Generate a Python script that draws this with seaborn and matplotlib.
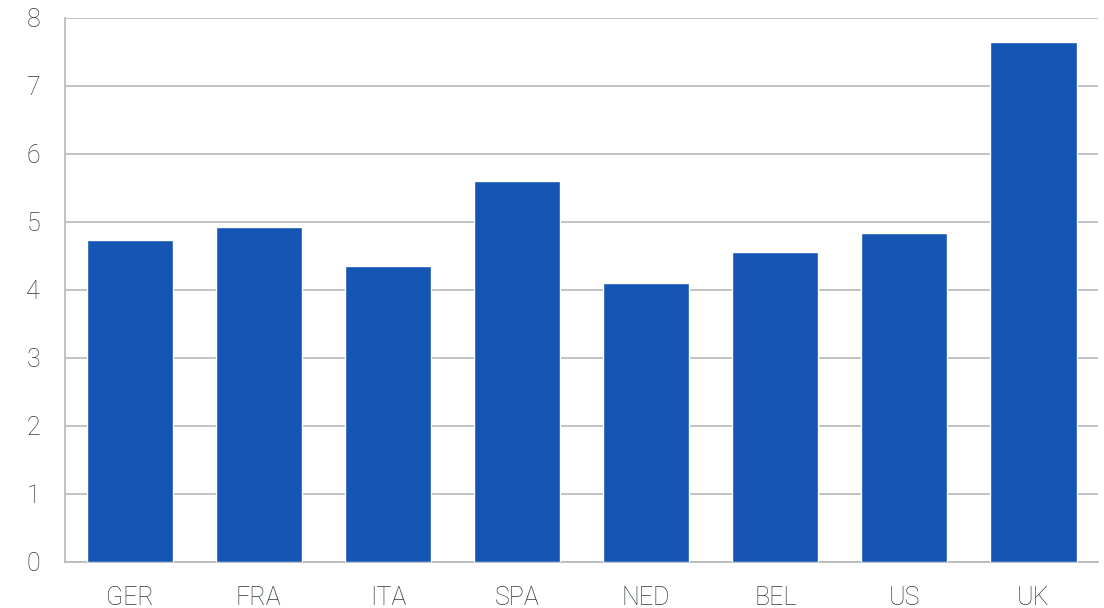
import matplotlib
matplotlib.use("Agg")
import matplotlib.pyplot as plt
import seaborn as sns
import pandas as pd

categories = ["GER", "FRA", "ITA", "SPA", "NED", "BEL", "US", "UK"]
values = [4.74, 4.93, 4.35, 5.60, 4.11, 4.56, 4.84, 7.64]

sns.set_theme(style="white")
plt.rcParams["font.family"] = ["Roboto", "DejaVu Sans"]

text_color = "#2c3b36"
grid_color = "#b4b9bc"
bar_color = "#1555b4"

df = pd.DataFrame({"country": categories, "value": values})

fig = plt.figure(figsize=(11.04, 6.08), dpi=100)
ax = fig.add_axes([0.0589, 0.0757, 0.9357, 0.8947])

sns.barplot(data=df, x="country", y="value", color=bar_color, saturation=1,
            width=0.667, ax=ax, zorder=3)

ax.set_xlim(-0.5, 7.5)
ax.set_ylim(0, 8)
ax.set_yticks(range(0, 9))
ax.yaxis.grid(True, color=grid_color, linewidth=1.2, zorder=0)
ax.set_axisbelow(True)
ax.set_xlabel("")
ax.set_ylabel("")

for side in ["top", "right"]:
    ax.spines[side].set_visible(False)
for side in ["left", "bottom"]:
    ax.spines[side].set_color(grid_color)
    ax.spines[side].set_linewidth(1.2)

ax.tick_params(axis="both", length=0, labelsize=18, colors=text_color)
ax.tick_params(axis="y", pad=18)
ax.tick_params(axis="x", pad=17)
for lbl in ax.get_xticklabels() + ax.get_yticklabels():
    lbl.set_fontweight("light")

fig.savefig("out.png", dpi=100)
